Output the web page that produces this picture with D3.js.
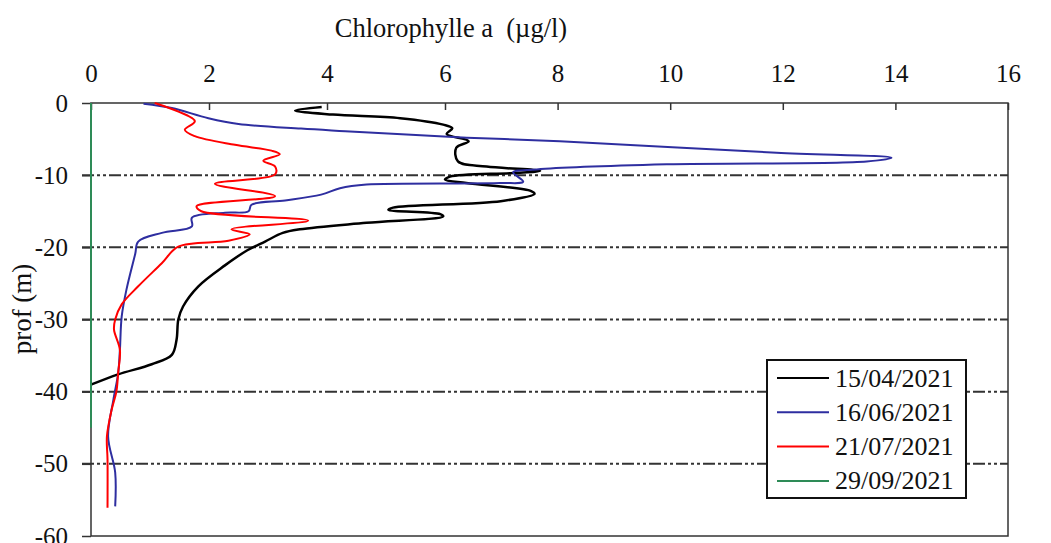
<!DOCTYPE html>
<html>
<head>
<meta charset="utf-8">
<script src="https://cdn.jsdelivr.net/npm/d3@7"></script>
<style>
  body { margin: 0; background: #fff; }
  svg { display: block; font-family: "Liberation Serif", "DejaVu Serif", serif; }
</style>
</head>
<body>
<svg id="chart"></svg>
<script>
const width = 1051
const height = 543

// series: [chlorophylle (µg/l), profondeur (m)]
const apr15 = [
  [3.91, -0.55], [3.46, -1.05], [4.1, -1.6], [5.24, -2.1], [5.97, -3.0], [6.13, -3.5],
  [6.03, -4.3], [6.42, -5.3], [6.2, -6.2], [6.23, -8.1], [6.74, -8.8], [7.69, -9.4],
  [7.21, -9.7], [6.09, -10.2], [6.0, -10.6], [6.38, -11.1], [7.53, -12.2], [7.59, -12.6],
  [6.99, -13.6], [5.12, -14.5], [5.04, -14.8], [5.92, -15.4], [5.97, -15.7], [4.67, -16.6],
  [3.54, -17.5], [3.25, -18.0], [2.95, -19.2], [2.65, -20.4], [2.27, -22.5], [1.82, -25.4],
  [1.56, -28.2], [1.48, -30], [1.45, -32.8], [1.37, -34.9], [1.03, -36.2], [0.46, -37.6],
  [0.01, -39.0]
]
const jun16 = [
  [0.89, -0.1], [1.37, -0.7], [1.99, -2.1], [2.5, -2.9], [3.56, -3.55], [4.31, -3.9],
  [6.39, -4.8], [8.04, -5.3], [11.89, -6.9], [13.93, -7.6], [13.49, -8.1], [9.94, -8.5],
  [7.63, -9.2], [7.21, -9.6], [7.39, -10.9], [6.98, -11.1], [4.67, -11.3], [4.22, -11.8],
  [3.9, -12.7], [3.29, -13.5], [2.72, -14.1], [2.67, -15.0], [2.27, -15.2], [1.71, -15.9],
  [1.71, -17.1], [1.2, -18.0], [0.8, -19.2], [0.75, -20.9], [0.6, -25.9], [0.52, -29.6],
  [0.49, -34.2], [0.46, -37.5], [0.38, -41.1], [0.29, -46.2], [0.41, -51.2], [0.41, -55.9]
]
const jul21 = [
  [1.08, 0], [1.76, -2.5], [1.59, -3.7], [1.76, -4.6], [2.44, -5.8], [3.06, -6.6],
  [3.2, -7.1], [2.92, -8.0], [3.12, -8.8], [3.12, -9.9], [2.1, -11.2], [3.12, -12.9],
  [1.79, -14.3], [1.87, -15.0], [3.68, -16.3], [2.38, -17.5], [2.69, -18.2], [2.33, -19.1],
  [1.48, -19.9], [1.2, -22.2], [0.8, -25.4], [0.52, -27.9], [0.41, -30], [0.39, -31.4],
  [0.49, -34.2], [0.46, -37.4], [0.43, -40], [0.35, -42.5], [0.27, -46.2], [0.28, -49.4],
  [0.28, -56.1]
]
const sep29 = [[0, 0], [0, -45]]

const seriesNames = ['15/04/2021', '16/06/2021', '21/07/2021', '29/09/2021']
const seriesColors = ['#000000', '#2e2ea0', '#ff0000', '#2e8b57']
const xTicks = [0, 2, 4, 6, 8, 10, 12, 14, 16]
const yTicks = [0, -10, -20, -30, -40, -50, -60]
const gridDepths = [-10, -20, -30, -40, -50]

const plotLeft = 91, plotRight = 1008, plotTop = 103, plotBottom = 536

const svg = d3.select('#chart').attr('width', width).attr('height', height)

// the scanned x axis is slightly stretched on its left part
const x = d3.scaleLinear().domain([0, 6, 16]).range([plotLeft, 445, plotRight])
const y = d3.scaleLinear().domain([0, -60]).range([plotTop, plotBottom])

// dash-dot-dot gridlines
svg.append('g')
  .selectAll('line')
  .data(gridDepths)
  .enter().append('line')
  .attr('x1', plotLeft - 9).attr('x2', plotRight)
  .attr('y1', d => y(d)).attr('y2', d => y(d))
  .style('stroke', '#333')
  .style('stroke-width', 2)
  .style('stroke-dasharray', '12,3,3,3,3,3')

// frame
svg.append('rect')
  .attr('x', plotLeft).attr('y', plotTop)
  .attr('width', plotRight - plotLeft).attr('height', plotBottom - plotTop)
  .style('fill', 'none')
  .style('stroke', '#333')
  .style('stroke-width', 1.5)

// plain hyphen for negatives, like the original
const fmt = d => String(d)

const xAxis = svg.append('g')
  .attr('transform', `translate(0,${plotTop})`)
  .call(d3.axisTop(x).tickValues(xTicks).tickSize(-7).tickPadding(21).tickFormat(fmt))
xAxis.select('.domain').remove()

const yAxis = svg.append('g')
  .attr('transform', `translate(${plotLeft},0)`)
  .call(d3.axisLeft(y).tickValues(yTicks).tickSize(9).tickPadding(14).tickFormat(fmt))
yAxis.select('.domain').remove()

svg.selectAll('.tick line').style('stroke', '#333').style('stroke-width', 1.5)
svg.selectAll('.tick text')
  .style('font-family', '"Liberation Serif", serif')
  .style('font-size', '25px')
  .style('fill', '#111')

svg.append('text')
  .attr('x', 451).attr('y', 37)
  .attr('text-anchor', 'middle')
  .style('font-size', '26.5px')
  .style('fill', '#111')
  .attr('xml:space', 'preserve')
  .text('Chlorophylle a  (µg/l)')

svg.append('text')
  .attr('transform', 'translate(31,309) rotate(-90)')
  .attr('text-anchor', 'middle')
  .style('font-size', '27px')
  .style('fill', '#111')
  .text('prof (m)')

const line = d3.line()
  .x(d => x(d[0]))
  .y(d => y(d[1]))
  .curve(d3.curveCatmullRom.alpha(0.5))

const allSeries = [apr15, jun16, jul21, sep29]

svg.append('g')
  .selectAll('path')
  .data(allSeries)
  .enter().append('path')
  .attr('d', line)
  .style('fill', 'none')
  .style('stroke', (d, i) => seriesColors[i])
  .style('stroke-width', (d, i) => i === 0 ? 2.5 : 2)

// legend
const legend = svg.append('g').attr('transform', 'translate(767,360)')
legend.append('rect')
  .attr('width', 199).attr('height', 138)
  .style('fill', '#fff')
  .style('stroke', '#111')
  .style('stroke-width', 2)

const rows = legend.selectAll('.row')
  .data(seriesNames)
  .enter().append('g')
  .attr('class', 'row')
  .attr('transform', (d, i) => `translate(0,${18 + i * 34.3})`)

rows.append('line')
  .attr('x1', 10).attr('x2', 62)
  .style('stroke', (d, i) => seriesColors[i])
  .style('stroke-width', 2)

rows.append('text')
  .attr('x', 68).attr('dy', '0.33em')
  .style('font-size', '26px')
  .style('fill', '#111')
  .text(d => d)
</script>
</body>
</html>
